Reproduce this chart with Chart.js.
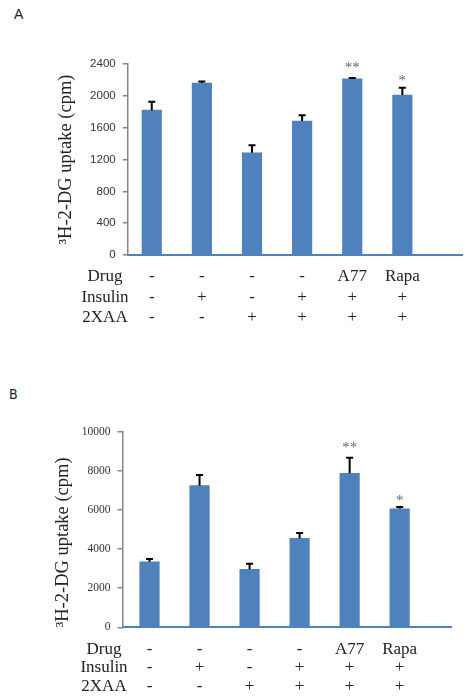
<!DOCTYPE html>
<html><head><meta charset="utf-8">
<script src="https://cdn.jsdelivr.net/npm/chart.js@4.4.1/dist/chart.umd.min.js"></script>
<style>
html,body{margin:0;padding:0;background:#fff;width:471px;height:700px;overflow:hidden;position:relative}
.pl{position:absolute;font-family:"Liberation Sans",Arial,sans-serif;font-size:14px;color:#222;line-height:16px}
#wa{position:absolute;left:0;top:0;width:471px;height:345px}
#wb{position:absolute;left:0;top:345px;width:471px;height:355px}
</style></head><body>
<div class="pl" style="left:14px;top:6px">A</div>
<div class="pl" style="left:9px;top:386px;font-family:'DejaVu Sans Condensed','Liberation Sans Narrow',sans-serif;font-weight:300">B</div>
<div id="wa"><canvas id="ca" width="471" height="345"></canvas></div>
<div id="wb"><canvas id="cb" width="471" height="355"></canvas></div>
<script>
// ---- data ----
const rowHeaders = ['Drug', 'Insulin', '2XAA'];
const drugRow = ['-', '-', '-', '-', 'A77', 'Rapa'];
const insulinRow = ['-', '+', '-', '+', '+', '+'];
const xaaRow = ['-', '-', '+', '+', '+', '+'];
const valuesA = [1820, 2160, 1285, 1683, 2215, 2010];
const errorsA = [105, 20, 95, 72, 10, 92];
const valuesB = [3350, 7240, 2965, 4550, 7870, 6060];
const errorsB = [140, 545, 290, 270, 800, 90];
const significance = ['', '', '', '', '**', '*'];
const yTicksA = [0, 400, 800, 1200, 1600, 2000, 2400];
const yTicksB = [0, 2000, 4000, 6000, 8000, 10000];
const yTitle = '³H-2-DG uptake (cpm)';

const BAR = '#4f81bd';

const extrasPlugin = {
  id: 'extras',
  afterDatasetsDraw(chart) {
    const o = chart.options.plugins.extras;
    const ctx = chart.ctx;
    const ys = chart.scales.y;
    const meta = chart.getDatasetMeta(0);
    ctx.save();
    meta.data.forEach((el, i) => {
      const top = ys.getPixelForValue(o.values[i] + o.errors[i]);
      ctx.strokeStyle = '#000';
      ctx.lineWidth = 2;
      ctx.beginPath();
      ctx.moveTo(el.x, el.y);
      ctx.lineTo(el.x, top);
      ctx.moveTo(el.x - 3.5, top);
      ctx.lineTo(el.x + 3.5, top);
      ctx.stroke();
      const s = significance[i];
      if (s) {
        ctx.fillStyle = '#666';
        ctx.font = '15px "Liberation Serif", serif';
        ctx.textAlign = 'center';
        ctx.textBaseline = 'alphabetic';
        ctx.fillText(s, el.x, top - (s.length > 1 ? 6 : 2.5));
      }
    });
    ctx.restore();
  },
  afterDraw(chart) {
    const o = chart.options.plugins.extras;
    const ctx = chart.ctx;
    const xs = chart.scales.x;
    ctx.save();
    ctx.fillStyle = '#222';
    ctx.font = '17px "Liberation Serif", serif';
    ctx.textAlign = 'center';
    ctx.textBaseline = 'middle';
    rowHeaders.forEach((h, k) => {
      ctx.fillText(h, o.headerX, xs.top + o.tickPad + o.lineHeight * (k + 0.5));
    });
    ctx.restore();
  }
};

function makeChart(id, c) {
  const H = document.getElementById(id).height;
  return new Chart(document.getElementById(id), {
    type: 'bar',
    data: {
      datasets: [{
        data: c.values.map((v, i) => ({ x: i, y: v })),
        backgroundColor: BAR,
        borderWidth: 0,
        barThickness: 19.5
      }]
    },
    options: {
      responsive: false,
      animation: false,
      events: [],
      layout: { padding: { left: 0, top: c.top, right: 471 - c.right, bottom: 0 } },
      plugins: {
        legend: { display: false },
        tooltip: { enabled: false },
        extras: { values: c.values, errors: c.errors, headerX: c.headerX, tickPad: c.tickPad, lineHeight: c.lineHeight }
      },
      scales: {
        x: {
          type: 'linear',
          min: c.xMin,
          max: c.xMax,
          offset: false,
          afterBuildTicks: s => { s.ticks = drugRow.map((_, i) => ({ value: i })); },
          afterFit: s => { s.height = H - c.bottom; },
          grid: { display: false, drawTicks: false },
          border: { display: true, color: BAR, width: 2 },
          ticks: {
            autoSkip: false, maxRotation: 0, minRotation: 0,
            padding: c.tickPad,
            color: '#222',
            font: { family: '"Liberation Serif", serif', size: 17, lineHeight: c.lineHeight + 'px' },
            callback: (v, i) => [drugRow[i], insulinRow[i], xaaRow[i]]
          }
        },
        y: {
          min: 0,
          max: c.yTicks[c.yTicks.length - 1],
          afterBuildTicks: s => { s.ticks = c.yTicks.map(v => ({ value: v })); },
          afterFit: s => { s.width = c.left; },
          grid: { display: true, drawOnChartArea: false, drawTicks: true, tickLength: 5, color: '#868686', lineWidth: 1.5 },
          border: { display: true, color: '#868686', width: 1.5 },
          ticks: {
            padding: 7,
            color: '#333',
            font: { family: c.tickFamily, size: 11.5 },
            callback: v => String(v)
          },
          title: {
            display: true,
            text: yTitle,
            color: '#222',
            align: c.titleAlign,
            font: { family: '"Liberation Serif", serif', size: 18.5 },
            padding: { top: c.titlePad, bottom: 0 }
          }
        }
      }
    },
    plugins: [extrasPlugin]
  });
}

makeChart('ca', {
  values: valuesA, errors: errorsA, yTicks: yTicksA,
  top: 64, bottom: 255, left: 127.7, right: 462,
  xMin: -0.48, xMax: 6.19,
  tickPad: 11.5, lineHeight: 20.6, headerX: 105,
  tickFamily: '"Liberation Sans", Arial, sans-serif',
  titleAlign: 'center', titlePad: 55
});
makeChart('cb', {
  values: valuesB, errors: errorsB, yTicks: yTicksB,
  top: 86.7, bottom: 282.3, left: 122.5, right: 451.7,
  xMin: -0.54, xMax: 6.04,
  tickPad: 12.6, lineHeight: 18.7, headerX: 104,
  tickFamily: '"Liberation Serif", serif',
  titleAlign: 'start', titlePad: 52.5
});
</script>
</body></html>
